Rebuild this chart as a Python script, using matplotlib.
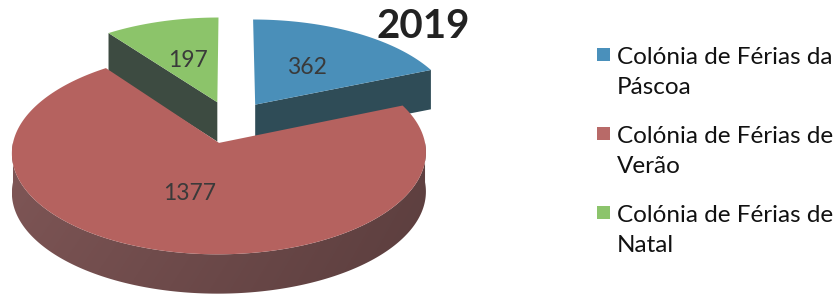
import numpy as np
import matplotlib.pyplot as plt
from matplotlib.patches import Polygon, Rectangle
from matplotlib.colors import to_rgb

# data
labels = ["Colónia de Férias da\nPáscoa",
          "Colónia de Férias de\nVerão",
          "Colónia de Férias de\nNatal"]
values = [362, 1377, 197]
title = "2019"

top_colors = ["#4a8fb9", "#b5625f", "#8cc46a"]
side_colors = ["#2f4c57", "#704c4c", "#3d4b41"]
legend_colors = ["#4a90bb", "#b86a68", "#8cc46c"]

plt.rcParams['font.family'] = ['Lato', 'DejaVu Sans']

W, H = 838, 299
fig = plt.figure(figsize=(W / 100, H / 100), dpi=100)
ax = fig.add_axes([0, 0, 1, 1])

# pie geometry (unit radius, 1 unit = R px)
R = 207.0
cx, cy = 231, 122
xlim = (-cx / R, (W - cx) / R)
ylim = (-(H - cy) / R, cy / R)

K = 0.096      # perspective
C = 0.466      # tilt
SX = 0.975     # horizontal squash
DEPTH = 0.19   # thickness
EXPLODE = 0.22


def proj(x, y, z=0.0):
    p = 1.0 / (1.0 + K * y)
    return np.column_stack([x * p * SX, y * C * p + z])


def shade(col, f):
    return np.clip(np.array(to_rgb(col)) * f, 0, 1)


total = float(sum(values))
ends = np.cumsum(values) / total * 2 * np.pi
starts = np.concatenate([[0.0], ends[:-1]])

slices = []
for i in range(len(values)):
    t1, t2 = starts[i], ends[i]
    mid = (t1 + t2) / 2
    ox, oy = EXPLODE * np.sin(mid), EXPLODE * np.cos(mid)
    slices.append((oy, i, t1, t2, mid, ox))

z = 1
# far slices first
for oy, i, t1, t2, mid, ox in sorted(slices, reverse=True):
    arc = np.linspace(t1, t2, 200)
    rx = ox + np.sin(arc)
    ry = oy + np.cos(arc)

    # radial faces facing the viewer
    for a, vis in [(t1, np.sin(t1) < -1e-9), (t2, np.sin(t2) > 1e-9)]:
        if not vis:
            continue
        xs = np.array([ox, ox + np.sin(a), ox + np.sin(a), ox])
        ys = np.array([oy, oy + np.cos(a), oy + np.cos(a), oy])
        zs = np.array([0, 0, -DEPTH, -DEPTH])
        ax.add_patch(Polygon(proj(xs, ys, zs), closed=True, zorder=z,
                             facecolor=side_colors[i], edgecolor='none'))
        z += 1

    # outer curved side, front half only, shaded left to right
    lo, hi = max(t1, np.pi / 2), min(t2, 3 * np.pi / 2)
    if hi > lo:
        seg = np.linspace(lo, hi, 200)
        sx = ox + np.sin(seg)
        sy = oy + np.cos(seg)
        top = proj(sx, sy, 0)
        bot = proj(sx, sy, -DEPTH)
        pts = np.vstack([top, bot[::-1]])
        side = Polygon(pts, closed=True, facecolor='none', edgecolor='none', zorder=z)
        ax.add_patch(side)
        x0, x1 = pts[:, 0].min(), pts[:, 0].max()
        y0, y1 = pts[:, 1].min(), pts[:, 1].max()
        gx = np.linspace(x0, x1, 256) - ox
        gy = np.linspace(0, 1, 32)
        f = (1.0 - 0.14 * gx)[None, :] * (1.0 - 0.06 * gy)[:, None]
        img = shade(side_colors[i], f[..., None])
        im = ax.imshow(img, extent=(x0, x1, y0, y1), origin='upper',
                       aspect='auto', interpolation='bilinear', zorder=z)
        im.set_clip_path(side)
        z += 1

    # top face
    xs = np.concatenate([[ox], rx])
    ys = np.concatenate([[oy], ry])
    ax.add_patch(Polygon(proj(xs, ys, 0), closed=True, zorder=z,
                         facecolor=top_colors[i], edgecolor='none'))
    z += 1

    # value label
    lp = proj(np.array([ox + 0.5 * np.sin(mid)]), np.array([oy + 0.5 * np.cos(mid)]))[0]
    ax.text(lp[0], lp[1], str(values[i]), ha='center', va='center',
            fontsize=16.5, color='#3a3a3a', zorder=50)

ax.set_xlim(*xlim)
ax.set_ylim(*ylim)
ax.axis('off')

fig.text(423 / W, 1 - 26 / H, title, ha='center', va='center',
         fontsize=29, fontweight='bold', color='#222222')

# legend
for i, lab in enumerate(labels):
    y0 = 64 + 79 * i
    fig.patches.append(Rectangle((597 / W, 1 - (y0 - 3) / H), 13 / W, 13 / H,
                                 transform=fig.transFigure, facecolor=legend_colors[i],
                                 edgecolor='none'))
    for j, line in enumerate(lab.split("\n")):
        fig.text(617 / W, 1 - (y0 + 30 * j) / H, line, ha='left', va='baseline',
                 fontsize=17.5, color='#111111')

fig.savefig("out.png", dpi=100, facecolor='white')
